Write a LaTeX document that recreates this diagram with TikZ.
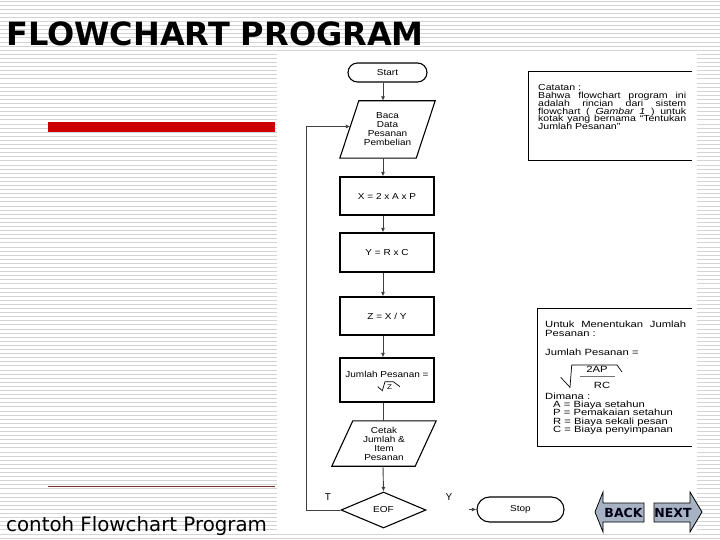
\documentclass[tikz,border=0pt]{standalone}
\usepackage{fontspec}
\setmainfont{Liberation Sans}
\newfontfamily\flowfam[FakeStretch=1.15]{Liberation Sans}
\newfontfamily\notefamA[FakeStretch=1.2]{Liberation Sans}
\newfontfamily\notefamB[FakeStretch=1.25]{Liberation Sans}
\newfontfamily\titlefam{DejaVu Sans}
\usetikzlibrary{shapes.geometric,shapes.misc,arrows.meta,calc}
\definecolor{barred}{HTML}{CC0000}
\definecolor{darkline}{HTML}{7A2A2A}
\definecolor{btnfill}{HTML}{A7B3C4}
\newcommand{\flowtxt}{\flowfam\fontsize{8.7}{9}\selectfont}
\newcommand{\flowsmall}{\flowfam\fontsize{7}{8}\selectfont}
\newcommand{\notetxtA}{\notefamA\fontsize{8.8}{8}\selectfont}
\newcommand{\notetxtB}{\notefamB\fontsize{9}{8.5}\selectfont}
\newcommand{\titletxt}{\titlefam\bfseries\fontsize{32}{36}\selectfont}
\newcommand{\captxt}{\titlefam\fontsize{19.8}{22}\selectfont}
\newcommand{\labeltxt}{\fontsize{10}{11}\selectfont}
\newcommand{\btntxt}{\titlefam\bfseries\fontsize{12.5}{13}\selectfont}
\tikzset{
  stripe/.style={draw=black!17, line width=0.9pt},
  boxline/.style={draw=black, line width=1.1pt},
  procbox/.style={rectangle, boxline, minimum width=94pt, inner sep=0pt, font=\flowtxt},
  termbox/.style={rounded rectangle, boxline, inner sep=0pt, font=\flowtxt},
  iobox/.style={rectangle, inner sep=0pt, align=center, font=\flowtxt},
  decbox/.style={diamond, boxline, inner sep=0pt, font=\flowtxt},
  conn/.style={draw=black!75, line width=0.9pt},
  arr/.style={conn, -{Latex[length=4.5pt,width=4pt]}},
  notelabelA/.style={anchor=base west, inner sep=0pt, font=\notetxtA},
  notelabelB/.style={anchor=base west, inner sep=0pt, font=\notetxtB},
  notebox/.style={draw=black, line width=1pt},
  btn/.style={draw=black, line width=0.8pt, fill=btnfill},
}
\begin{document}
\begin{tikzpicture}[x=1pt,y=-1pt]
\useasboundingbox (0,0) rectangle (720,540);
\fill[white] (0,0) rectangle (720,540);
% striped slide background
\foreach \i in {0,...,131} \draw[stripe] (0,{1+4.1*\i}) -- (720,{1+4.1*\i});
% embedded picture area
\fill[white] (277,54) rectangle (697,531);
% slide decorations
\node[anchor=base west, inner sep=0pt, font=\titletxt] (title) at (6,46) {FLOWCHART PROGRAM};
\fill[barred] (48,122) rectangle (275,132);
\draw[darkline, line width=1pt] (48,486) -- (275,486);
\node[anchor=base west, inner sep=0pt, font=\captxt] (caption) at (6,531) {contoh Flowchart Program};

% flowchart
\coordinate (ax) at (383,0);
\node[termbox, minimum width=79pt, minimum height=19pt] (start) at (387.5,72.5) {Start};
\node[iobox, minimum width=95pt, minimum height=57pt] (baca) at (387.5,129.5) {Baca\\Data\\Pesanan\\Pembelian};
\draw[boxline] ($(baca.north west)+(19,0)$) -- (baca.north east) -- ($(baca.south east)-(19,0)$) -- (baca.south west) -- cycle;
\node[procbox, minimum height=38pt] (px) at (387,196) {X = 2 x A x P};
\node[procbox, minimum height=39pt] (py) at (387,252.5) {Y = R x C};
\node[procbox, minimum height=38pt] (pz) at (387,316) {Z = X / Y};
\node[procbox, minimum height=44pt] (pj) at (387,380) {};
\node[font=\flowtxt, inner sep=0pt] (pjt) at (387,374) {Jumlah Pesanan =};
\node[font=\flowsmall, inner sep=0pt] (pjz) at (389.5,387.5) {Z};
\draw[black, line width=0.7pt] (377.7,386.7) -- (382.3,390.7) -- (385,381.7) -- (393.3,381.7) -- (400,386.7);
\node[iobox, minimum width=104pt, minimum height=45pt] (cetak) at (384,443.5) {Cetak\\Jumlah \&\\Item\\Pesanan};
\draw[boxline] ($(cetak.north west)+(21,0)$) -- (cetak.north east) -- ($(cetak.south east)-(21,0)$) -- (cetak.south west) -- cycle;
\node[decbox, minimum width=85pt, minimum height=36pt] (eof) at (383.5,510) {EOF};
\node[termbox, minimum width=87pt, minimum height=25pt] (stop) at (520.5,509.5) {Stop};

\draw[arr] (start.south -| ax) -- (baca.north -| ax);
\draw[arr] (baca.south -| ax) -- (px.north -| ax);
\draw[arr] (px.south -| ax) -- (py.north -| ax);
\draw[arr] (py.south -| ax) -- (pz.north -| ax);
\draw[arr] (pz.south -| ax) -- (pj.north -| ax);
\draw[conn] (pj.south -| ax) -- (cetak.north -| ax);
\draw[arr] (cetak.south -| ax) -- (eof.north);
\coordinate (bacaL) at ($(baca.west)+(10.5,-3)$);
\coordinate (loopx) at (306,0);
\draw[arr] (eof.west) -- (eof.west -| loopx) -- (bacaL -| loopx) -- (bacaL);
\node[font=\labeltxt, inner sep=0pt] (tlab) at (328,497) {T};
\node[font=\labeltxt, inner sep=0pt] (ylab) at (449,497) {Y};
\coordinate (stopin) at ($(stop.west)+(-7,0)$);
\draw[arr] (stopin) -- (stop.west);

% note 1
\draw[notebox] (692,72) -- (528,72) -- (528,161) -- (692,161);
\node[notelabelA] (c1) at (538,91) {Catatan :};
\node[notelabelA] (c2) at (538,98.7) {\makebox[148pt][s]{Bahwa flowchart program ini}};
\node[notelabelA] (c3) at (538,106.4) {\makebox[148pt][s]{adalah rincian dari sistem}};
\node[notelabelA] (c4) at (538,114.1) {\makebox[148pt][s]{flowchart ( \textit{Gambar 1} ) untuk}};
\node[notelabelA] (c5) at (538,121.8) {\makebox[148pt][s]{kotak yang bernama “Tentukan}};
\node[notelabelA] (c6) at (538,129.5) {Jumlah Pesanan”};

% note 2
\draw[notebox] (692,308) -- (537,308) -- (537,446) -- (692,446);
\node[notelabelB] (u1) at (545,327) {\makebox[141pt][s]{Untuk Menentukan Jumlah}};
\node[notelabelB] (u2) at (545,336) {Pesanan :};
\node[notelabelB] (u3) at (545,355) {Jumlah Pesanan =};
\draw[black, line width=0.7pt] (560.7,377.3) -- (570,387.3) -- (571.7,365) -- (617,365) -- (622,372);
\node[font=\notetxtB, inner sep=0pt] (f1) at (597,369.5) {2AP};
\draw[black!55, line width=1.4pt] (580,376.7) -- (615,376.7);
\node[font=\notetxtB, inner sep=0pt] (f2) at (602,385) {RC};
\node[notelabelB] (u4) at (545,399) {Dimana :};
\node[notelabelB] (u5) at (553,407.5) {A = Biaya setahun};
\node[notelabelB] (u6) at (553,415.5) {P = Pemakaian setahun};
\node[notelabelB] (u7) at (553,424) {R = Biaya sekali pesan};
\node[notelabelB] (u8) at (553,432.5) {C = Biaya penyimpanan};

% navigation buttons
\draw[btn] (595,512) -- (603,492) -- (603,503) -- (644,503) -- (644,522) -- (603,522) -- (603,532) -- cycle;
\draw[btn] (654,503) -- (690,503) -- (690,492) -- (702,512) -- (690,532) -- (690,522) -- (654,522) -- cycle;
\node[font=\btntxt, inner sep=0pt, text=black!90!blue] (back) at (623.5,512.5) {BACK};
\node[font=\btntxt, inner sep=0pt, text=black!90!blue] (next) at (673,512.5) {NEXT};
\end{tikzpicture}
\end{document}
